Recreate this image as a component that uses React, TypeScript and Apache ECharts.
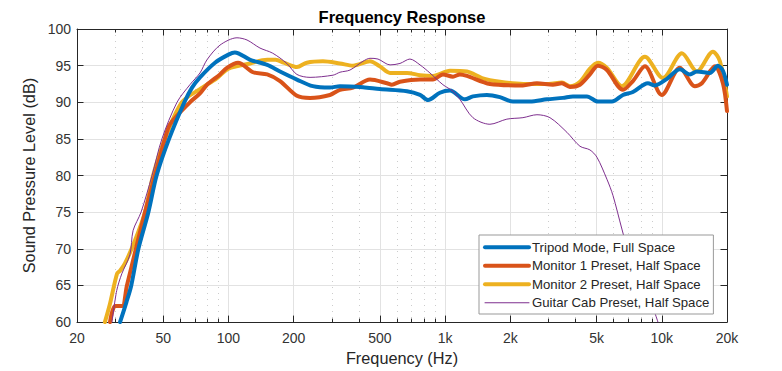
import React, { useEffect, useRef } from "react";
import * as echarts from "echarts";

const MAJOR_TICKS = [20, 50, 100, 200, 500, 1000, 2000, 5000, 10000, 20000];
const MINOR_TICKS = [30, 40, 60, 70, 80, 90, 300, 400, 600, 700, 800, 900, 3000, 4000, 6000, 7000, 8000, 9000];

const tripod: number[][] = [
  [31.6, 60], [33.8, 62.7], [35.6, 65], [38.4, 70], [42.7, 75], [46.6, 80], [53.2, 85], [62.6, 90],
  [67.9, 92.0], [73.9, 93.4], [86.7, 95.4], [100, 96.5], [107, 96.8], [126, 95.8], [151, 95.1],
  [173, 94.2], [207, 93.1], [245, 92.2], [294, 92.0], [327, 92.2], [418, 92.05], [500, 91.8],
  [667, 91.5], [766, 91.0], [834, 90.3], [946, 91.3], [1053, 91.6], [1234, 90.4], [1344, 90.8],
  [1560, 91.0], [1790, 90.7], [2056, 90.1], [2463, 90.1], [2952, 90.4], [3498, 90.6], [3890, 90.8],
  [4515, 90.8], [5073, 90.1], [5888, 90.1], [6617, 91.0], [7358, 91.4], [8630, 92.6], [9296, 92.3],
  [10562, 93.2], [12124, 94.5], [13486, 93.8], [14522, 94.2], [16674, 94.0], [18156, 95.0],
  [19150, 94.3], [20000, 92.4],
];

const monitor1: number[][] = [
  [28.4, 60], [30, 62.2], [32.3, 62.2], [34, 65], [37.4, 70], [41.2, 75], [45.8, 80], [50.9, 85],
  [53.7, 87], [66.4, 90], [73.9, 91.2], [79.6, 92.4], [91.4, 93.8], [98.4, 94.7], [110.7, 95.4],
  [130, 94.1], [151, 93.8], [173, 92.9], [207, 90.9], [238, 90.6], [294, 91.0], [327, 91.7],
  [376, 92.0], [450, 93.1], [539, 92.6], [568, 92.4], [619, 92.8], [766, 93.1], [879, 93.1],
  [977, 93.8], [1087, 93.5], [1170, 93.8], [1261, 93.6], [1610, 92.5], [2286, 92.3], [2654, 92.6],
  [3144, 92.4], [3460, 92.6], [3768, 92.1], [4192, 92.4], [4660, 93.8], [5073, 95.0], [5582, 94.4],
  [6617, 91.7], [7358, 92.9], [8360, 94.9], [10000, 91.0], [12124, 94.7], [14220, 92.2],
  [15312, 92.6], [17590, 94.9], [19150, 92.6], [20000, 88.8],
];

const monitor2: number[][] = [
  [26.9, 60], [28.4, 62.5], [30.6, 66.6], [31.6, 67.0], [33.3, 68], [37, 71.1], [41.2, 75],
  [44.9, 80], [50.9, 85], [61, 90], [73.9, 91.8], [88.6, 93.3], [100, 94.6], [126, 95.3],
  [151, 95.8], [165, 95.8], [180, 95.4], [200, 94.9], [207, 94.8], [230, 95.4], [273, 95.6],
  [327, 95.3], [376, 95.0], [450, 95.6], [500, 94.9], [557, 94.0], [667, 94.0], [766, 93.7],
  [879, 93.6], [1053, 94.3], [1261, 94.2], [1480, 93.3], [1790, 92.8], [2300, 92.5], [3000, 92.5],
  [3460, 92.7], [3768, 92.2], [4192, 92.8], [4660, 94.6], [5073, 95.4], [5582, 94.7], [6546, 92.2],
  [8360, 96.2], [10122, 93.3], [12388, 96.7], [14522, 94.2], [17220, 96.9], [18548, 95.6],
  [20000, 90.8],
];

const guitarCab: number[][] = [
  [29, 60], [30.5, 64.3], [32.2, 66.6], [35.1, 69.2], [36.3, 72.5], [39.5, 75], [44.4, 80],
  [49.3, 85], [57.9, 90], [66.4, 92.4], [73.9, 94.0], [79.6, 95.8], [91.4, 97.8], [109.5, 98.8],
  [121.8, 98.5], [139.8, 97.4], [160, 96.7], [186, 95.3], [207, 93.8], [238, 93.4], [304, 93.7],
  [327, 94.1], [364, 94.4], [418, 95.6], [450, 96.0], [490, 95.9], [557, 95.1], [619, 95.3],
  [688, 95.9], [766, 95.1], [851, 94.0], [977, 92.4], [1087, 91.5], [1170, 90.4], [1344, 87.9],
  [1610, 87.0], [1928, 87.7], [2286, 87.9], [2654, 88.3], [3047, 87.9], [3650, 85.9], [4192, 84.0],
  [4660, 83.5], [5020, 82.5], [5582, 79.5], [5950, 77.3], [6546, 72.7], [7358, 67.3], [8184, 64.2],
  [9100, 61.9], [9600, 60],
];

const NAMES = [
  "Tripod Mode, Full Space",
  "Monitor 1 Preset, Half Space",
  "Monitor 2 Preset, Half Space",
  "Guitar Cab Preset, Half Space",
];
const COLORS = ["#0072BD", "#D95319", "#EDB120", "#7E2F8E"];

const FONT = "'Liberation Sans', Arial, Helvetica, sans-serif";
const AXIS_COLOR = "#262626";
const LX = (f: number) => Math.log10(f);
const XMIN = LX(20);
const XMAX = LX(20000);

const fmt = (v: number) => {
  const f = Math.round(Math.pow(10, v));
  return f >= 1000 ? `${f / 1000}k` : `${f}`;
};

const toLog = (d: number[][]) => d.map(([f, db]) => [LX(f), db]);

export default function App() {
  const ref = useRef<HTMLDivElement>(null);
  useEffect(() => {
    if (!ref.current) return;
    const chart = echarts.init(ref.current, null, { renderer: "svg" });
    const majors = MAJOR_TICKS.map(LX);
    const minors = MINOR_TICKS.map(LX);
    const baseX = { type: "value", min: XMIN, max: XMAX, gridIndex: 0 };
    const option: any = {
      animation: false,
      backgroundColor: "#ffffff",
      textStyle: { fontFamily: FONT },
      title: {
        text: "Frequency Response",
        left: 402,
        top: 8,
        padding: 0,
        textAlign: "center",
        textStyle: { fontFamily: FONT, fontSize: 16.5, fontWeight: "bold", color: "#000" },
      },
      grid: { left: 77, right: 55, top: 29, bottom: 47, containLabel: false },
      legend: {
        orient: "vertical",
        left: 479,
        top: 235,
        padding: [5, 4, 4, 4],
        itemGap: 4,
        itemWidth: 44,
        itemHeight: 6,
        backgroundColor: "#ffffff",
        borderColor: "#999999",
        borderWidth: 1,
        borderRadius: 0,
        data: NAMES,
        lineStyle: { width: "inherit" },
        itemStyle: { opacity: 0 },
        textStyle: { fontFamily: FONT, fontSize: 13.2, color: AXIS_COLOR, lineHeight: 14.5, padding: [0, 0, 0, -2] },
        selectedMode: false,
      },
      xAxis: [
        {
          ...baseX,
          position: "bottom",
          name: "Frequency (Hz)",
          nameLocation: "middle",
          nameGap: 24,
          nameTextStyle: { fontFamily: FONT, fontSize: 16.3, color: AXIS_COLOR },
          axisLine: { show: true, lineStyle: { color: AXIS_COLOR, width: 1 } },
          axisTick: { show: true, inside: true, length: 6.5, customValues: majors, lineStyle: { color: AXIS_COLOR } },
          axisLabel: {
            show: true,
            customValues: majors,
            formatter: fmt,
            margin: 9,
            fontFamily: FONT,
            fontSize: 14,
            color: "#333333",
          },
          splitLine: { show: true, lineStyle: { color: "#e2e2e2", width: 1 } },
        },
        {
          ...baseX,
          position: "top",
          axisLine: { show: true, lineStyle: { color: AXIS_COLOR, width: 1 } },
          axisTick: { show: true, inside: true, length: 6.5, customValues: majors, lineStyle: { color: AXIS_COLOR } },
          axisLabel: { show: false },
          splitLine: { show: false },
        },
        {
          ...baseX,
          position: "bottom",
          axisLine: { show: false },
          axisTick: { show: true, inside: true, length: 3.5, customValues: minors, lineStyle: { color: AXIS_COLOR } },
          axisLabel: { show: false },
          splitLine: { show: true, lineStyle: { color: "#cccccc", width: 1, type: [1, 5] } },
        },
        {
          ...baseX,
          position: "top",
          axisLine: { show: false },
          axisTick: { show: true, inside: true, length: 3.5, customValues: minors, lineStyle: { color: AXIS_COLOR } },
          axisLabel: { show: false },
          splitLine: { show: false },
        },
      ],
      yAxis: [
        {
          type: "value",
          min: 60,
          max: 100,
          interval: 5,
          position: "left",
          name: "Sound Pressure Level (dB)",
          nameLocation: "middle",
          nameGap: 37,
          nameTextStyle: { fontFamily: FONT, fontSize: 16.3, color: AXIS_COLOR },
          axisLine: { show: true, lineStyle: { color: AXIS_COLOR, width: 1 } },
          axisTick: { show: true, inside: true, length: 6.5, lineStyle: { color: AXIS_COLOR } },
          axisLabel: { margin: 6, fontFamily: FONT, fontSize: 14, color: "#333333" },
          splitLine: { show: true, lineStyle: { color: "#e2e2e2", width: 1 } },
        },
        {
          type: "value",
          min: 60,
          max: 100,
          interval: 5,
          position: "right",
          axisLine: { show: true, lineStyle: { color: AXIS_COLOR, width: 1 } },
          axisTick: { show: true, inside: true, length: 6.5, lineStyle: { color: AXIS_COLOR } },
          axisLabel: { show: false },
          splitLine: { show: false },
        },
      ],
      series: [
        { name: NAMES[2], data: toLog(monitor2), color: COLORS[2], width: 4 },
        { name: NAMES[1], data: toLog(monitor1), color: COLORS[1], width: 4 },
        { name: NAMES[0], data: toLog(tripod), color: COLORS[0], width: 4 },
        { name: NAMES[3], data: toLog(guitarCab), color: COLORS[3], width: 1 },
      ].map((s) => ({
        type: "line",
        name: s.name,
        data: s.data,
        xAxisIndex: 0,
        yAxisIndex: 0,
        showSymbol: false,
        symbol: "none",
        smooth: 0.3,
        clip: true,
        color: s.color,
        lineStyle: { color: s.color, width: s.width, join: "round", cap: "round" },
        emphasis: { disabled: true },
      })),
    };
    chart.setOption(option);
    return () => chart.dispose();
  }, []);
  return (
    <div
      ref={ref}
      style={{ position: "fixed", left: 0, top: 0, width: 782, height: 371, background: "#fff" }}
    />
  );
}
